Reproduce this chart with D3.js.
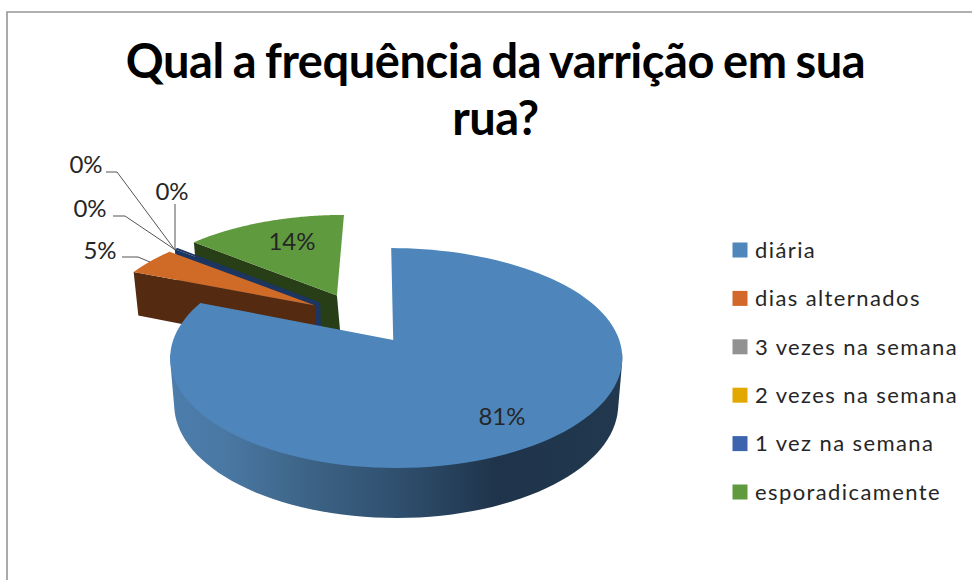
<!DOCTYPE html>
<html><head><meta charset="utf-8">
<script src="https://cdn.jsdelivr.net/npm/d3@7"></script>
<style>html,body{margin:0;padding:0;background:#fff}svg{display:block}</style>
</head><body><svg id="c" width="972" height="580"></svg>
<script>
const titleLines = ["Qual a frequência da varrição em sua", "rua?"];
const categories = ["diária","dias alternados","3 vezes na semana","2 vezes na semana","1 vez na semana","esporadicamente"];
const shares = [81, 4.5, 0, 0, 0.3, 14.2];
const shareLabels = ["81%","5%","0%","0%","0%","14%"];
const legendColors = ["#4f86bb","#d2692a","#929292","#e3a800","#3d65ad","#5f9a3f"];
const topColors = ["#4e86bc","#cf6b26","#929292","#e3a800","#1c3561","#5f9a3f"];
const wallColors = ["#2a4a6b","#542b10","#555555","#7d5d00","#1c3561","#283e17"];

const svg = d3.select("#c");
const FONT = "Lato, Carlito, 'Open Sans', sans-serif";

// frame
svg.append("path").attr("d","M7,580V12H972").attr("fill","none").attr("stroke","#969696").attr("stroke-width",1.6);

// title
svg.selectAll("text.t").data(titleLines).join("text").attr("class","t")
  .attr("x",495.5).attr("y",(d,i)=>78+i*57).attr("text-anchor","middle")
  .attr("font-family",FONT).attr("font-weight",700).attr("font-size",47)
  .attr("word-spacing",-2).attr("letter-spacing",-0.45).attr("fill","#000").text(d=>d);

// 3D pie projection (perspective ground plane)
const apex = {x:393,y:340}, Rx=223, Ry=107, persp=0.1636, explode=0.258;
const offU=-0.144, offV=0.213;
const sx = d3.scaleLinear().domain([0,1]).range([apex.x,apex.x+Rx]);
const sy = d3.scaleLinear().domain([0,1]).range([apex.y,apex.y-Ry]);
function proj(u,v,low){
  const d = 1+persp*v;
  if(!low) return [sx(u/d), sy(v/d)];
  return [sx(0.982*u/d), sy(v/d)+46/(1+0.08*v)];
}
const pie = d3.pie().value(d=>d).sort(null).startAngle(0).endAngle(2*Math.PI);
const arcs = pie(shares);
const line = d3.line();
const defs = svg.append("defs");
const g = defs.append("linearGradient").attr("id","blueWall").attr("gradientUnits","userSpaceOnUse")
  .attr("x1",170).attr("x2",622).attr("y1",0).attr("y2",0);
[[0,"#4c7dab"],[0.12,"#4a78a4"],[0.3,"#3d6486"],[0.5,"#30506f"],[0.72,"#1f344a"],[1,"#21384f"]]
  .forEach(s=>g.append("stop").attr("offset",s[0]).attr("stop-color",s[1]));

// rim offsets: the blue rim sits a little right of its apex, tilting back at the top; green sits a little left
const rimShift = [v=>3-5*Math.pow(Math.max(v,0),3), v=>0, v=>0, v=>0, v=>0, v=>-3];
function slicePts(i, low){
  const a=arcs[i], mid=(a.startAngle+a.endAngle)/2;
  const cu=offU+explode*Math.sin(mid), cv=offV+explode*Math.cos(mid);
  const angles=d3.range(0,121).map(k=>a.startAngle+(a.endAngle-a.startAngle)*k/120);
  const pts=angles.map(th=>{
    const p=proj(cu+Math.sin(th),cv+Math.cos(th),low);
    return [p[0]+rimShift[i](Math.cos(th)),p[1]];
  });
  const c=proj(cu,cv,low);
  return {pts,angles,c:[c[0]+(i===5&&!low?-3:0),c[1]]};
}
const layer=svg.append("g");
function drawSlice(i){
  if(arcs[i].value<=0) return;
  const top=slicePts(i,false), low=slicePts(i,true);
  if(i!==0){
    // viewer-facing radial face
    layer.append("path").attr("d",line([top.c,top.pts[0],low.pts[0],low.c])+"Z").attr("fill",wallColors[i]);
  } else {
    // outer wall of the large slice: silhouette of the front part of the rim, widest point included
    const front=(s)=>s.pts.filter((p,k)=>Math.cos(s.angles[k])<-0.1);
    const hull=d3.polygonHull(front(top).concat(front(low)));
    layer.append("path").attr("d",line(hull)+"Z").attr("fill","url(#blueWall)");
  }
  layer.append("path").attr("d",line([top.c].concat(top.pts))+"Z").attr("fill",topColors[i]);
}
// back to front
[5,4,1,0].forEach(drawSlice);

// leader lines
const leaders=[
  [[106,172],[117,172],[175,250]],
  [[113,216],[125,216],[174,249]],
  [[175,204],[175,250]],
  [[122,257],[138,257],[150,262]]
];
svg.selectAll("path.l").data(leaders).join("path").attr("class","l")
  .attr("d",d=>line(d)).attr("fill","none").attr("stroke","#555").attr("stroke-width",1);

// data labels (index into shareLabels -> placement)
const labelPlaces=[[0,502,417],[1,100,251],[2,86,165],[3,90,209],[4,172,192],[5,292,242]];
svg.selectAll("text.d").data(labelPlaces).join("text").attr("class","d")
  .attr("x",d=>d[1]).attr("y",d=>d[2]).attr("dy","0.35em").attr("text-anchor","middle")
  .attr("font-family",FONT).attr("font-size",24).attr("fill","#262626").text(d=>shareLabels[d[0]]);

// legend
const ly=d3.scalePoint().domain(categories).range([250,492]);
const leg=svg.selectAll("g.lg").data(categories).join("g").attr("class","lg").attr("transform",d=>`translate(0,${ly(d)})`);
leg.append("rect").attr("x",732.5).attr("y",-7.5).attr("width",15).attr("height",15).attr("fill",(d,i)=>legendColors[i]);
leg.append("text").attr("x",755).attr("dy","0.35em").attr("font-family",FONT).attr("font-size",22).attr("letter-spacing",1.4).attr("fill","#262626").text(d=>d);
</script></body></html>
